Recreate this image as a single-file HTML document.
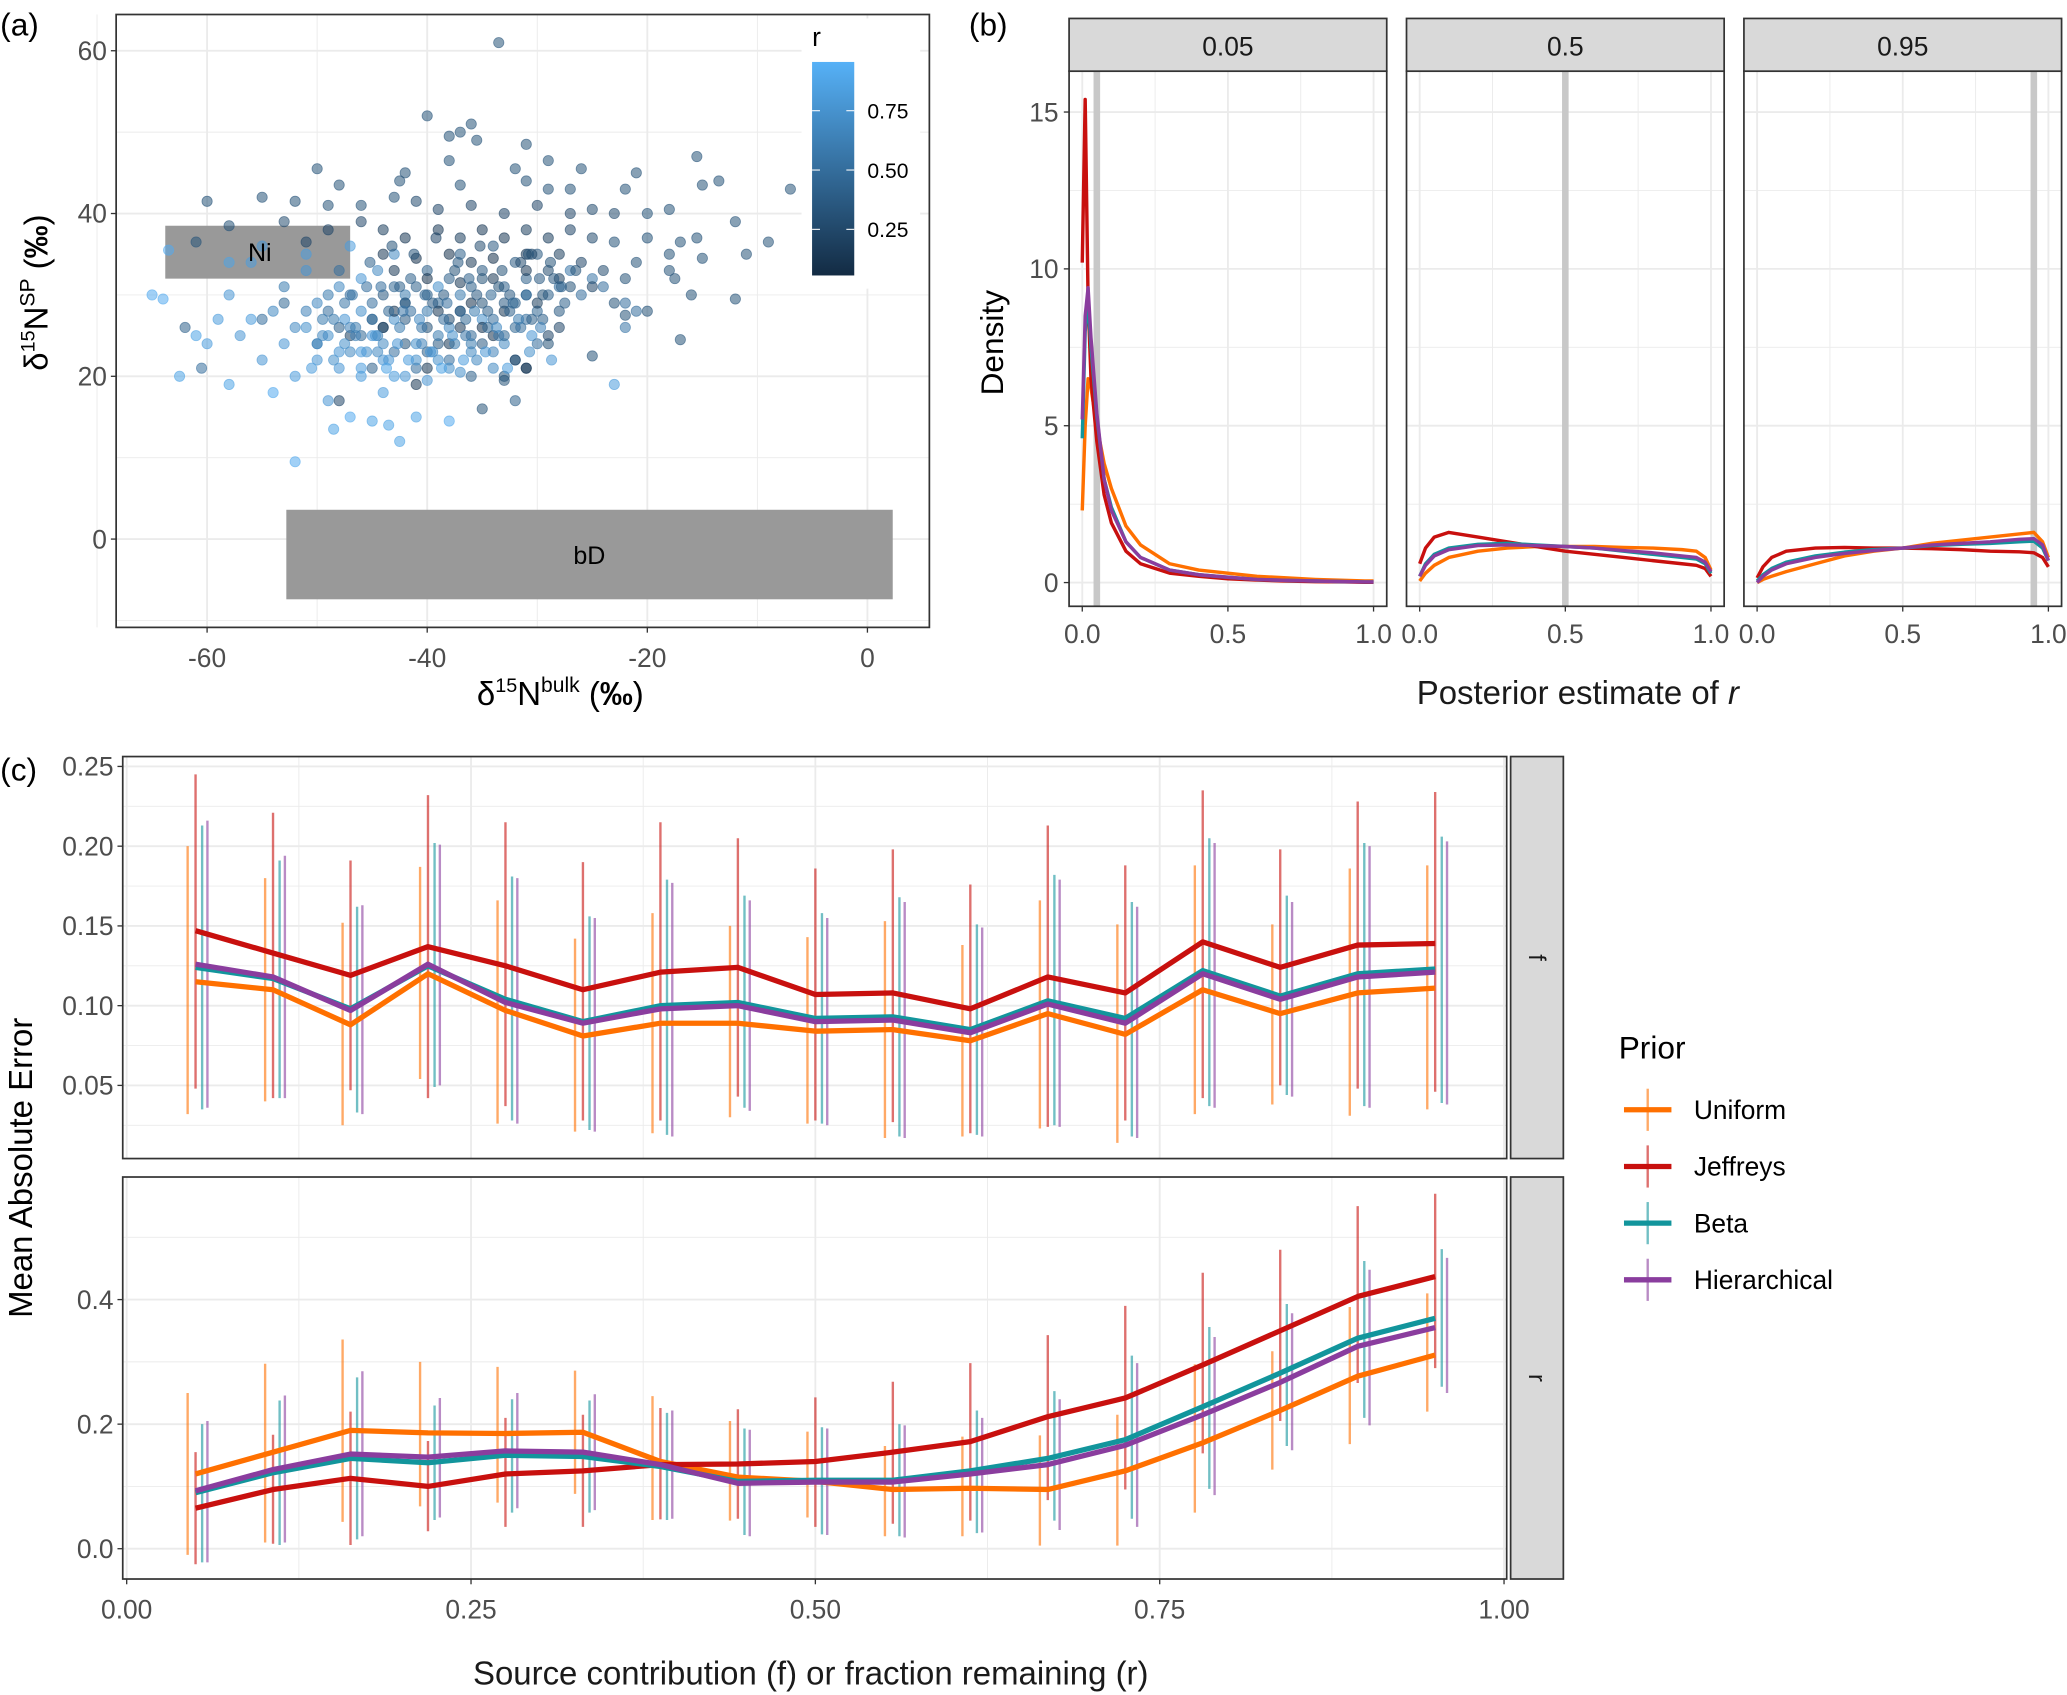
<!DOCTYPE html>
<html><head><meta charset="utf-8"><style>
html,body{margin:0;padding:0;background:#fff;}
svg{display:block;font-family:"Liberation Sans",sans-serif;}
</style></head><body>
<svg id="fig" width="2067" height="1695" viewBox="0 0 1568 1286" xmlns="http://www.w3.org/2000/svg">
<defs>
<linearGradient id="cbar" x1="0" y1="1" x2="0" y2="0">
<stop offset="0" stop-color="#132B43"/><stop offset="1" stop-color="#56B1F7"/>
</linearGradient>
</defs>
<g id="root"></g>
</svg>
<script>
// ---------- Panel (a) data ----------
const bx=[-65,-64,-63.5,-62,-62.5,-61,-60.5,-60,-59,-58,-58,-57,-56,-56,-55,-54,-54,-53,-53,-52,-52,-51,-51,-50,-50,-49,-49,-48.5,-48,-48,-47.5,-47,-47,-46,-46,-45,-45,-44.5,-44,-44,-43.5,-43,-42.5,-42,-42,-41,-41,-40,-40,-39,-38,-38,-37,-37,-36,-35,-34,-33,-32,-31,-30.5,-23,-47,-55,-58,-51,-46,-43,-39,
-55,-53,-50,-49,-48,-47,-46,-45,-44,-43,-43,-42,-41,-41,-40,-40,-39,-39,-38,-38,-37,-37,-36,-36,-35,-35,-34,-34,-33,-33,-32,-32,-31,-31,-30,-30,-29,-29,-28,-27,-26,-25,-24,-22,-22,-21,-45,-44,-42,-40,-38,-36,-35,-33,-31,-32,
-33.5,-40,-36,-38,-37,-35.5,-31,-38,-29,-32,-26,-21,-15.5,-50,-42,-48,-42.5,-37,-31,-29,-27,-22,-15,-13.5,-7,-60,-55,-52,-49,-46,-43,-41,-39,-36,-33,-30,-27,-25,-23,-20,-18,-12,-58,-53,-49,-46,-44,-42,-39,-37,-35,-33,-31,-29,-27,-25,-23,-20,-17,-15.5,-9,-61,-51,-44,-41,-38,-36,-34,-31,-28,-26,-24,-21,-18,-15,-11,-43,-40,-37,-34,-31,-28,-25,-22,-18,-17.5,-16,-12,-22,-23,-20,-17,-25,-42,-39,-36,-33,-30,-28,-29,-32,-31,-33,-35,-48,-41,-40,-44,-47,-45,-43,-38,-35,-37,-34,
-50,-49.5,-48.5,-47.5,-46.5,-45.5,-44.5,-43.5,-42.5,-41.5,-40.5,-39.5,-38.5,-37.5,-36.5,-35.5,-34.5,-33.5,-32.5,-31.5,-30.5,-29.5,-28.5,-27.5,-26.5,
-50.5,-49,-48,-47,-46,-45,-44,-43,-42,-41,-40,-39,-38,-37,-36,-35,-34,-33,-32,-31,-30,-29,-28,-27,
-52,-51,-49.5,-48.5,-47.5,-46.5,-45.5,-44.5,-43.5,-42.5,-41.5,-40.5,-39.5,-38.5,-37.5,-36.5,-35.5,-34.5,-33.5,-32.5,-31.5,-30.5,-29.5,
-48,-46.8,-45.2,-44.2,-43.2,-42.2,-41.2,-40.2,-39.2,-38.2,-37.2,-36.2,-35.2,-34.2,-33.2,-32.2,-30.8,-29.8,-28.8,-27.8,
-46,-44.7,-43.7,-42.7,-41.7,-40.7,-39.7,-38.7,-37.7,-36.7,-35.7,-34.7,-33.7,-32.7,-31.7,-30.7,-29.7,-28.7];
const sp=[30,29.5,35.5,26,20,25,21,24,27,19,30,25,27,34,22,18,28,24,31,20,9.5,26,33,22,29,17,25,13.5,21,31,27,15,23,20,28,25,14.5,33,18,22,14,27,12,20,30,15,24,19.5,28,22,14.5,26,20.5,30,23,27,21,24,22,30,25,19,36,36,34,35,32,35,31,
27,29,24,28,26,30,25,29,26,31,23,27,31,21,26,33,29,24,32,22,28,35,31,25,33,29,27,36,31,25,29,34,27,32,28,35,30,24,31,33,30,32,31,29,26,28,21,30,24,23,27,20,24,20,21,17,
61,52,51,49.5,50,49,48.5,46.5,46.5,45.5,45.5,45,47,45.5,45,43.5,44,43.5,44,43,43,43,43.5,44,43,41.5,42,41.5,41,41,42,41.5,40.5,41,40,41,40,40.5,40,40,40.5,39,38.5,39,38,39,38,37,38,37,38,37,38,37,38,37,36.5,37,36.5,37,36.5,36.5,36.5,35,34.5,35,34,34.5,35,35,34,33,34,35,34.5,35,33,32,31.5,32,33,32,31,32,33,32,30,29.5,27.5,29,28,24.5,22.5,29,28,29,28,29,26,25,22,21,19.5,16,17,19,21,26,25,27,28,24,26,26,25,
24,27,22,29,25,31,23,28,26,32,24,29,27,33,25,30,26,31,28,34,27,30,32,29,33,
21,30,23,26,21,27,24,20,29,22,30,25,21,28,24,32,23,29,26,30,24,33,28,31,
26,28,25,27,24,26,23,25,22,31,28,26,23,30,24,27,22,28,25,30,26,35,27,
33,30,34,31,36,28,35,30,37,29,34,32,36,30,33,29,35,32,34,31,
23,25,21,24,22,27,23,21,25,22,28,23,26,21,27,23,26,22];
const rv=[0.95,0.95,0.95,0.4,0.9,0.9,0.5,0.85,0.85,0.9,0.8,0.8,0.85,0.85,0.8,0.95,0.7,0.8,0.6,0.85,0.95,0.75,0.8,0.8,0.7,0.8,0.75,0.9,0.8,0.7,0.8,0.95,0.7,0.85,0.75,0.8,0.9,0.7,0.85,0.8,0.9,0.75,0.9,0.8,0.6,0.9,0.75,0.8,0.6,0.75,0.95,0.7,0.75,0.6,0.7,0.75,0.7,0.7,0.65,0.85,0.8,0.85,0.85,0.8,0.9,0.85,0.8,0.7,0.75,
0.5,0.45,0.55,0.5,0.4,0.5,0.45,0.5,0.4,0.45,0.5,0.35,0.4,0.5,0.3,0.4,0.45,0.35,0.4,0.5,0.35,0.4,0.4,0.45,0.35,0.3,0.5,0.35,0.4,0.45,0.4,0.35,0.5,0.4,0.45,0.35,0.4,0.3,0.5,0.55,0.5,0.55,0.5,0.5,0.55,0.5,0.4,0.35,0.3,0.4,0.25,0.4,0.35,0.3,0.2,0.4,
0.3,0.3,0.3,0.3,0.3,0.3,0.3,0.3,0.3,0.3,0.3,0.3,0.3,0.3,0.3,0.3,0.3,0.3,0.3,0.3,0.3,0.3,0.3,0.3,0.3,0.3,0.3,0.3,0.3,0.3,0.3,0.25,0.2,0.2,0.2,0.2,0.2,0.25,0.25,0.3,0.3,0.3,0.3,0.25,0.2,0.2,0.15,0.1,0.1,0.15,0.1,0.1,0.15,0.15,0.2,0.25,0.3,0.3,0.3,0.3,0.3,0.3,0.2,0.1,0.05,0.05,0.1,0.05,0.1,0.15,0.2,0.25,0.3,0.3,0.3,0.3,0.1,0.05,0.1,0.1,0.1,0.15,0.2,0.3,0.3,0.3,0.3,0.3,0.3,0.3,0.3,0.3,0.3,0.1,0.1,0.05,0.1,0.15,0.2,0.2,0.1,0.1,0.3,0.3,0.2,0.1,0.1,0.1,0.15,0.1,0.1,0.1,0.05,0.1,0.05,
0.7,0.6,0.75,0.55,0.65,0.5,0.7,0.45,0.6,0.4,0.65,0.35,0.5,0.3,0.55,0.35,0.45,0.3,0.4,0.25,0.4,0.3,0.35,0.4,0.3,
0.85,0.6,0.8,0.65,0.85,0.6,0.7,0.85,0.45,0.75,0.4,0.6,0.75,0.35,0.6,0.3,0.65,0.35,0.45,0.3,0.5,0.25,0.35,0.3,
0.7,0.65,0.7,0.6,0.75,0.6,0.75,0.6,0.8,0.4,0.5,0.55,0.7,0.35,0.6,0.45,0.7,0.4,0.55,0.35,0.5,0.2,0.4,
0.5,0.55,0.4,0.5,0.3,0.55,0.3,0.45,0.2,0.5,0.35,0.4,0.25,0.45,0.3,0.45,0.3,0.35,0.3,0.4,
0.85,0.8,0.9,0.8,0.85,0.7,0.8,0.9,0.75,0.85,0.6,0.8,0.7,0.85,0.6,0.75,0.65,0.8];
const aXTicks=[-60,-40,-20,0];
const aYTicks=[0,20,40,60];
const cbTicks=[0.25,0.5,0.75];

// ---------- Panel (b) data ----------
const bFacets=["0.05","0.5","0.95"];
const bTrue=[0.05,0.5,0.95];
const gridB1=[0,0.01,0.02,0.03,0.05,0.075,0.1,0.15,0.2,0.3,0.4,0.5,0.6,0.7,0.8,0.9,0.97,1.0];
const gridB2=[0,0.02,0.05,0.1,0.2,0.3,0.4,0.5,0.6,0.7,0.8,0.9,0.95,0.98,1.0];
const d1Uniform=[2.3,5,6.5,6.2,5,3.8,3,1.8,1.2,0.6,0.4,0.3,0.2,0.15,0.1,0.07,0.05,0.05];
const d1Jeffreys=[10.2,15.4,9,6.5,4.5,2.8,1.9,1.0,0.6,0.3,0.2,0.12,0.08,0.05,0.03,0.02,0.01,0.01];
const d1Beta=[4.6,8,9,7.5,5.3,3.3,2.4,1.3,0.8,0.4,0.25,0.17,0.1,0.07,0.05,0.03,0.02,0.02];
const d1Hier=[5.2,8.5,9.4,7.8,5.4,3.3,2.3,1.3,0.8,0.4,0.25,0.17,0.1,0.07,0.05,0.03,0.02,0.02];
const d2Uniform=[0.05,0.3,0.55,0.8,1.0,1.1,1.15,1.15,1.15,1.12,1.1,1.05,1.0,0.8,0.4];
const d2Jeffreys=[0.6,1.1,1.45,1.6,1.45,1.3,1.15,1.0,0.9,0.8,0.7,0.6,0.55,0.45,0.2];
const d2Beta=[0.2,0.6,0.9,1.1,1.22,1.25,1.2,1.15,1.1,1.0,0.9,0.8,0.75,0.6,0.3];
const d2Hier=[0.2,0.55,0.85,1.05,1.18,1.2,1.18,1.15,1.1,1.02,0.95,0.85,0.8,0.65,0.35];
const d3Uniform=[0,0.1,0.2,0.35,0.6,0.85,1.0,1.1,1.25,1.35,1.45,1.55,1.6,1.3,0.8];
const d3Jeffreys=[0.15,0.5,0.8,1.0,1.1,1.12,1.1,1.1,1.08,1.05,1.0,0.98,0.95,0.8,0.5];
const d3Beta=[0.05,0.25,0.45,0.65,0.85,0.97,1.05,1.1,1.18,1.22,1.25,1.3,1.32,1.1,0.7];
const d3Hier=[0,0.2,0.4,0.6,0.8,0.93,1.02,1.1,1.2,1.25,1.3,1.38,1.4,1.2,0.7];
const bYTicks=[0,5,10,15];
const bXTicks=["0.0","0.5","1.0"];

// ---------- Panel (c) data ----------
const cX=[0.05,0.10625,0.1625,0.21875,0.275,0.33125,0.3875,0.44375,0.5,0.55625,0.6125,0.66875,0.725,0.78125,0.8375,0.89375,0.95];
const fUniform=[0.115,0.110,0.088,0.120,0.097,0.081,0.089,0.089,0.084,0.085,0.078,0.095,0.082,0.110,0.095,0.108,0.111];
const fJeffreys=[0.147,0.133,0.119,0.137,0.125,0.110,0.121,0.124,0.107,0.108,0.098,0.118,0.108,0.140,0.124,0.138,0.139];
const fBeta=[0.124,0.117,0.098,0.125,0.104,0.090,0.100,0.102,0.092,0.093,0.085,0.103,0.092,0.122,0.106,0.120,0.123];
const fHier=[0.126,0.118,0.097,0.126,0.102,0.089,0.098,0.100,0.090,0.091,0.083,0.101,0.089,0.120,0.104,0.118,0.121];
const fUniformHi=[0.200,0.180,0.152,0.187,0.166,0.142,0.158,0.150,0.143,0.153,0.138,0.166,0.151,0.188,0.151,0.186,0.188];
const fUniformLo=[0.032,0.040,0.025,0.054,0.026,0.021,0.020,0.030,0.026,0.017,0.018,0.023,0.014,0.032,0.038,0.031,0.035];
const fJeffreysHi=[0.245,0.221,0.191,0.232,0.215,0.190,0.215,0.205,0.186,0.198,0.176,0.213,0.188,0.235,0.198,0.228,0.234];
const fJeffreysLo=[0.048,0.042,0.047,0.042,0.037,0.028,0.028,0.043,0.028,0.027,0.020,0.024,0.028,0.042,0.050,0.048,0.046];
const fBetaHi=[0.213,0.191,0.162,0.202,0.181,0.156,0.179,0.169,0.158,0.168,0.151,0.182,0.165,0.205,0.169,0.202,0.206];
const fBetaLo=[0.035,0.042,0.033,0.049,0.028,0.022,0.019,0.036,0.026,0.018,0.019,0.025,0.018,0.037,0.044,0.037,0.039];
const fHierHi=[0.216,0.194,0.163,0.201,0.180,0.155,0.177,0.166,0.155,0.165,0.149,0.179,0.162,0.202,0.165,0.200,0.203];
const fHierLo=[0.036,0.042,0.032,0.050,0.026,0.021,0.018,0.034,0.025,0.017,0.018,0.024,0.017,0.036,0.043,0.036,0.038];
const rUniform=[0.120,0.155,0.190,0.186,0.185,0.187,0.140,0.115,0.108,0.095,0.097,0.095,0.125,0.170,0.222,0.277,0.311];
const rJeffreys=[0.065,0.095,0.113,0.100,0.120,0.125,0.135,0.136,0.140,0.155,0.172,0.212,0.242,0.295,0.350,0.405,0.437];
const rBeta=[0.090,0.122,0.145,0.138,0.150,0.148,0.132,0.108,0.110,0.110,0.125,0.145,0.175,0.228,0.282,0.338,0.370];
const rHier=[0.093,0.127,0.152,0.147,0.157,0.155,0.135,0.105,0.107,0.107,0.120,0.135,0.166,0.215,0.267,0.325,0.355];
const rUniformHi=[0.250,0.297,0.336,0.300,0.292,0.286,0.245,0.205,0.188,0.165,0.180,0.182,0.215,0.296,0.317,0.388,0.410];
const rUniformLo=[-0.010,0.010,0.043,0.068,0.074,0.088,0.046,0.045,0.050,0.020,0.020,0.005,0.005,0.058,0.127,0.168,0.220];
const rJeffreysHi=[0.155,0.183,0.220,0.173,0.210,0.215,0.226,0.224,0.243,0.268,0.298,0.343,0.390,0.443,0.480,0.550,0.570];
const rJeffreysLo=[-0.025,0.008,0.006,0.028,0.035,0.035,0.047,0.048,0.035,0.040,0.045,0.078,0.095,0.153,0.205,0.266,0.290];
const rBetaHi=[0.200,0.238,0.275,0.230,0.240,0.238,0.218,0.193,0.195,0.200,0.222,0.253,0.310,0.356,0.393,0.462,0.481];
const rBetaLo=[-0.022,0.006,0.015,0.046,0.058,0.058,0.046,0.022,0.023,0.020,0.025,0.045,0.048,0.096,0.165,0.210,0.260];
const rHierHi=[0.205,0.246,0.285,0.242,0.250,0.248,0.222,0.191,0.193,0.198,0.210,0.240,0.298,0.340,0.378,0.448,0.467];
const rHierLo=[-0.022,0.010,0.020,0.050,0.065,0.062,0.048,0.020,0.022,0.018,0.026,0.030,0.035,0.086,0.158,0.198,0.250];
const cXTicks=["0.00","0.25","0.50","0.75","1.00"];
const fYTicks=["0.05","0.10","0.15","0.20","0.25"];
const rYTicks=["0.0","0.2","0.4"];
const priors=["Uniform","Jeffreys","Beta","Hierarchical"];

const COL={Uniform:"#FF7000",Jeffreys:"#C8100E",Beta:"#12959C",Hierarchical:"#8A3D9E"};
const NS="http://www.w3.org/2000/svg";
const root=document.getElementById('root');
function mk(tag,attrs,parent){const e=document.createElementNS(NS,tag);for(const k in attrs)e.setAttribute(k,attrs[k]);(parent||root).appendChild(e);return e;}
function txt(s,x,y,size,attrs,parent){const e=mk('text',Object.assign({x:x,y:y,'font-size':size,fill:'#4d4d4d'},attrs||{}),parent);e.textContent=s;return e;}
function lerpCol(t){const a=[0x13,0x2B,0x43],b=[0x56,0xB1,0xF7];return 'rgb('+a.map((v,i)=>Math.round(v+(b[i]-v)*t)).join(',')+')';}
function pathD(xs,ys){return xs.map((x,i)=>(i?'L':'M')+x.toFixed(2)+','+ys[i].toFixed(2)).join(' ');}

// ================= Panel (a) =================
const aL=88,aR=705,aT=11,aB=476;
const ax=v=>658+v*8.35, ay=v=>409-v*6.175;
let g=mk('g',{});


let bg=mk('rect',{x:aL,y:aT,width:aR-aL,height:aB-aT,fill:'#fff'},g);


for(let v=-70;v<=0;v+=10){const major=v%20===0;const l=mk('line',{x1:ax(v),x2:ax(v),y1:aT,y2:aB,stroke:'#ebebeb','stroke-width':major?1.4:0.7},g);}
for(let v=-10;v<=60;v+=10){const major=v%20===0;const l=mk('line',{x1:aL,x2:aR,y1:ay(v),y2:ay(v),stroke:'#ebebeb','stroke-width':major?1.4:0.7},g);}
let ni=mk('rect',{x:ax(-63.8),y:ay(38.5),width:ax(-47)-ax(-63.8),height:ay(32)-ay(38.5),fill:'#999'},g);


let bd=mk('rect',{x:ax(-52.8),y:ay(3.6),width:ax(2.3)-ax(-52.8),height:ay(-7.4)-ay(3.6),fill:'#999'},g);


for(let i=0;i<bx.length;i++){const c=mk('circle',{cx:ax(bx[i]),cy:ay(sp[i]),r:3.9,fill:lerpCol(rv[i]),'fill-opacity':0.55,stroke:lerpCol(rv[i]),'stroke-opacity':0.6,'stroke-width':0.6},g);}
let t=txt('Ni',197,198,19,{fill:'#000','text-anchor':'middle'},g);
t=txt('bD',447,428,19,{fill:'#000','text-anchor':'middle'},g);
let br=mk('rect',{x:aL,y:aT,width:aR-aL,height:aB-aT,fill:'none',stroke:'#333','stroke-width':1.3},g);

aXTicks.forEach(v=>{mk('line',{x1:ax(v),x2:ax(v),y1:aB,y2:aB+4,stroke:'#333'},g);const e=txt(String(v),ax(v),506,20,{'text-anchor':'middle'},g);});
aYTicks.forEach(v=>{mk('line',{x1:aL-4,x2:aL,y1:ay(v),y2:ay(v),stroke:'#333'},g);const e=txt(String(v),aL-7,ay(v)+7,20,{'text-anchor':'end'},g);});
// colorbar
let cbBg=mk('rect',{x:608,y:14,width:90,height:205,fill:'#fff'},g);

let cb=mk('rect',{x:616,y:47,width:32,height:162,fill:'url(#cbar)'},g);

cbTicks.forEach(v=>{const y=219-v*180;mk('line',{x1:616,x2:622,y1:y,y2:y,stroke:'#fff','stroke-width':0.8},g);mk('line',{x1:642,x2:648,y1:y,y2:y,stroke:'#fff','stroke-width':0.8},g);const e=txt(v.toFixed(2),658,y+6,16,{fill:'#000'},g);});
t=txt('r',616,35,20,{fill:'#000'},g);
t=mk('text',{x:425,y:535,'font-size':25,fill:'#000','text-anchor':'middle'},g);
t.innerHTML='δ<tspan font-size="15" dy="-10">15</tspan><tspan dy="10">N</tspan><tspan font-size="16" dy="-10">bulk</tspan><tspan dy="10"> (</tspan><tspan font-weight="bold">‰</tspan>)';

t=mk('text',{x:0,y:0,'font-size':25,fill:'#000','text-anchor':'middle',transform:'translate(36,222) rotate(-90)'},g);
t.innerHTML='δ<tspan font-size="15" dy="-10">15</tspan><tspan dy="10">N</tspan><tspan font-size="16" dy="-10">SP</tspan><tspan dy="10"> (</tspan><tspan font-weight="bold">‰</tspan>)';

t=txt('(a)',0,27,24,{fill:'#000'});

// ================= Panel (b) =================
const bT=54,bB=460,bStripT=14;
const facetL=[811,1067,1323], facetW=241;
const by=v=>442-v*23.8;
const dataB=[[d1Uniform,d1Jeffreys,d1Beta,d1Hier],[d2Uniform,d2Jeffreys,d2Beta,d2Hier],[d3Uniform,d3Jeffreys,d3Beta,d3Hier]];
const gridsB=[gridB1,gridB2,gridB2];
g=mk('g',{});

facetL.forEach((L,fi)=>{
  const bxs=v=>L+10+v*221;
  const fg=mk('g',{},g);
  
  for(let v=0;v<=1.0001;v+=0.25){mk('line',{x1:bxs(v),x2:bxs(v),y1:bT,y2:bB,stroke:'#ebebeb','stroke-width':Math.abs(v*2-Math.round(v*2))<0.01?1.4:0.7},fg);}
  for(let v=0;v<=17.5;v+=2.5){mk('line',{x1:L,x2:L+facetW,y1:by(v),y2:by(v),stroke:'#ebebeb','stroke-width':v%5===0?1.4:0.7},fg);}
  const tl=mk('line',{x1:bxs(bTrue[fi]),x2:bxs(bTrue[fi]),y1:bT,y2:bB,stroke:'#c8c8c8','stroke-width':5},fg);
  
  [0,1,2,3].forEach(pi=>{const ys=dataB[fi][pi];const p=mk('path',{d:pathD(gridsB[fi].map(bxs),ys.map(by)),fill:'none',stroke:COL[priors[pi]],'stroke-width':2.6,'stroke-linejoin':'round'},fg);});
  mk('rect',{x:L,y:bT,width:facetW,height:bB-bT,fill:'none',stroke:'#333','stroke-width':1.3},fg);
  const st=mk('rect',{x:L,y:bStripT,width:facetW,height:bT-bStripT,fill:'#d9d9d9',stroke:'#333','stroke-width':1.3},fg);
  
  const sl=txt(bFacets[fi],L+facetW/2,42,20,{fill:'#1a1a1a','text-anchor':'middle'},fg);
  
  bXTicks.forEach(s=>{const v=parseFloat(s);mk('line',{x1:bxs(v),x2:bxs(v),y1:bB,y2:bB+4,stroke:'#333'},fg);const e=txt(s,bxs(v),488,20,{'text-anchor':'middle'},fg);});
});
bYTicks.forEach(v=>{mk('line',{x1:807,x2:811,y1:by(v),y2:by(v),stroke:'#333'},g);const e=txt(String(v),803,by(v)+7,20,{'text-anchor':'end'},g);});
t=txt('Density',0,0,24,{fill:'#000','text-anchor':'middle',transform:'translate(761,260) rotate(-90)'},g);
t=mk('text',{x:1197,y:534,'font-size':25,fill:'#1a1a1a','text-anchor':'middle'},g);t.innerHTML='Posterior estimate of <tspan font-style="italic">r</tspan>';

t=txt('(b)',735,27,24,{fill:'#000'});

// ================= Panel (c) =================
const cL=93,cR=1143;
const cx=v=>96+v*1045;
const offs=[-6,0,5,9];
const panelsC=[
 {name:'f',T:574,B:879,y:v=>763-(v-0.10)*1210,ticks:fYTicks,minor:[0.025,0.075,0.125,0.175,0.225],
  vals:[fUniform,fJeffreys,fBeta,fHier],hi:[fUniformHi,fJeffreysHi,fBetaHi,fHierHi],lo:[fUniformLo,fJeffreysLo,fBetaLo,fHierLo]},
 {name:'r',T:893,B:1198,y:v=>1175-v*472.5,ticks:rYTicks,minor:[0.1,0.3,0.5],
  vals:[rUniform,rJeffreys,rBeta,rHier],hi:[rUniformHi,rJeffreysHi,rBetaHi,rHierHi],lo:[rUniformLo,rJeffreysLo,rBetaLo,rHierLo]}];
g=mk('g',{});

panelsC.forEach(P=>{
  const fg=mk('g',{},g);
  
  [0.125,0.375,0.625,0.875].forEach(v=>mk('line',{x1:cx(v),x2:cx(v),y1:P.T,y2:P.B,stroke:'#ebebeb','stroke-width':0.7},fg));
  cXTicks.forEach(s=>mk('line',{x1:cx(+s),x2:cx(+s),y1:P.T,y2:P.B,stroke:'#ebebeb','stroke-width':1.4},fg));
  P.minor.forEach(v=>mk('line',{x1:cL,x2:cR,y1:P.y(v),y2:P.y(v),stroke:'#ebebeb','stroke-width':0.7},fg));
  P.ticks.forEach(s=>{const y=P.y(+s);mk('line',{x1:cL,x2:cR,y1:y,y2:y,stroke:'#ebebeb','stroke-width':1.4},fg);mk('line',{x1:cL-4,x2:cL,y1:y,y2:y,stroke:'#333'},fg);const e=txt(s,cL-7,y+7,20,{'text-anchor':'end'},fg);});
  [0,1,2,3].forEach(pi=>{P.vals[pi].forEach((v,i)=>{const x=cx(cX[i])+offs[pi];const e=mk('line',{x1:x,x2:x,y1:P.y(P.lo[pi][i]),y2:P.y(P.hi[pi][i]),stroke:COL[priors[pi]],'stroke-opacity':0.6,'stroke-width':1.8},fg);});});
  [0,1,2,3].forEach(pi=>{const p=mk('path',{d:pathD(cX.map(cx),P.vals[pi].map(P.y)),fill:'none',stroke:COL[priors[pi]],'stroke-width':4,'stroke-linejoin':'round'},fg);});
  mk('rect',{x:cL,y:P.T,width:cR-cL,height:P.B-P.T,fill:'none',stroke:'#333','stroke-width':1.3},fg);
  const st=mk('rect',{x:1146,y:P.T,width:40,height:P.B-P.T,fill:'#d9d9d9',stroke:'#333','stroke-width':1.3},fg);
  
  const sl=txt(P.name,0,0,18,{fill:'#1a1a1a','text-anchor':'middle',transform:'translate(1160,'+((P.T+P.B)/2)+') rotate(90)'},fg);
  
});
cXTicks.forEach(s=>{mk('line',{x1:cx(+s),x2:cx(+s),y1:1198,y2:1202,stroke:'#333'},g);const e=txt(s,cx(+s),1228,20,{'text-anchor':'middle'},g);});
t=txt('Mean Absolute Error',0,0,25,{fill:'#000','text-anchor':'middle',transform:'translate(24,886) rotate(-90)'},g);
t=txt('Source contribution (f) or fraction remaining (r)',615,1278,25,{fill:'#1a1a1a','text-anchor':'middle'},g);
t=txt('(c)',0,592,24,{fill:'#000'});
// legend
const lg=mk('g',{},g);

t=txt('Prior',1228,803,24,{fill:'#000'},lg);
priors.forEach((p,i)=>{const y=842+i*43;const eg=mk('g',{},lg);
  
  
  mk('line',{x1:1250,x2:1250,y1:y-16,y2:y+16,stroke:COL[p],'stroke-opacity':0.6,'stroke-width':1.8},eg);
  mk('line',{x1:1232,x2:1268,y1:y,y2:y,stroke:COL[p],'stroke-width':4},eg);
  txt(p,1285,y+7,20,{fill:'#000'},eg);});
</script>
</body></html>
